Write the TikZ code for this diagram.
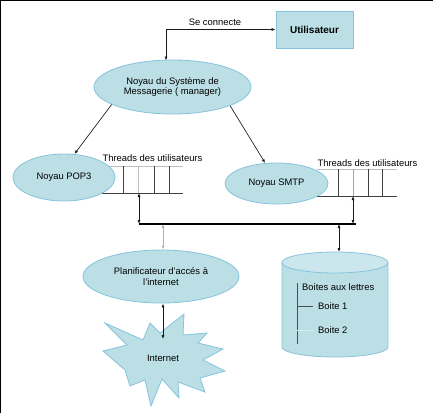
\documentclass[tikz,border=0pt]{standalone}
\usepackage{fontspec}
\setmainfont{Liberation Sans}
\usetikzlibrary{shapes.geometric,arrows.meta}
\definecolor{boxfill}{HTML}{BBDFE5}
\definecolor{boxedge}{HTML}{86C3DE}
\definecolor{topfill}{HTML}{CBE7ED}
\tikzset{
  txt/.style={font=\fontsize{9.4}{10.8}\selectfont, text=black},
  oval/.style={ellipse, draw=boxedge, fill=boxfill, line width=0.8pt, inner sep=0pt, txt, align=center},
  arr/.style={-{Latex[length=4pt,width=3pt]}, line width=0.7pt, draw=black!85},
  darr/.style={{Latex[length=4pt,width=3pt]}-{Latex[length=4pt,width=3pt]}, line width=0.7pt, draw=black!90},
  qline/.style={line width=0.7pt, draw=black!75},
  qlight/.style={line width=0.7pt, draw=black!25},
}
\begin{document}
\begin{tikzpicture}[x=1pt,y=-1pt]
\useasboundingbox (0,0) rectangle (433,413);
\fill[white] (0,0) rectangle (433,413);
\draw[line width=1.6pt] (0,413) -- (0,0) -- (433,0);

% user
\node[draw=boxedge, fill=boxfill, line width=0.8pt, minimum width=77pt, minimum height=37pt, inner sep=0pt,
      font=\fontsize{10}{12}\selectfont\bfseries] (user) at (314.5,29.5) {Utilisateur};

% manager
\node[oval, minimum width=157pt, minimum height=54pt] (mgr) at (172.5,87) {Noyau du Système de\\Messagerie ( manager)};
\coordinate (mgrtop) at (166,60.5);
\draw[darr] (user.west) -| (mgrtop);
\node[txt] (seconn) at (215,22) {Se connecte};

% queues
\draw[qlight] (100,166) -- (183,166);
\draw[qline] (100,193) -- (183,193);
\draw[qline] (123,166) -- (123,193);
\draw[qlight] (138,166) -- (138,193);
\draw[qline] (154,166) -- (154,193);
\draw[qline] (169,166) -- (169,193);
\draw[qlight] (317,169) -- (397,169);
\draw[qline] (317,196) -- (397,196);
\draw[qline] (338,169) -- (338,196);
\draw[line width=1pt, draw=black!35] (353,169) -- (353,196);
\draw[qline] (368,169) -- (368,196);
\draw[qline] (382,169) -- (382,196);

\node[txt, anchor=west] (thrL) at (99,158) {Threads des utilisateurs};
\node[txt, anchor=west] (thrR) at (314,163) {Threads des utilisateurs};

% pop3 & smtp
\node[oval, minimum width=102pt, minimum height=47pt] (pop) at (64,177.5) {Noyau POP3};
\node[oval, minimum width=103pt, minimum height=41pt] (smtp) at (276.5,183.5) {Noyau SMTP};

\draw[arr] (mgr.196) -- (pop.66);
\draw[arr] (mgr.342) -- (smtp.119);

% bus
\coordinate (qL) at (139,193);
\coordinate (qR) at (353,196);
\coordinate (busL) at (139,224);
\coordinate (busR) at (356,224);
\coordinate (b1) at (163,224);
\coordinate (b2) at (339,224);
\draw[line width=1.1pt] (busL) -- (busR);
\draw[darr] (qL) -- (busL);
\draw[darr] (qR) -- (qR |- busL);

% planificateur
\node[oval, minimum width=156pt, minimum height=53pt] (plan) at (161,276.5) {Planificateur d'accés à\\l'internet};
\draw[darr, draw=black!30] (b1) -- (plan.north -| b1);

% internet starburst
\filldraw[fill=boxfill, draw=boxedge, line width=0.8pt]
  (105,323) -- (143,340) -- (150,323) -- (160,333) -- (184,314) -- (183,335) -- (207,333) -- (198,343)
  -- (223,349) -- (203,360) -- (225,371) -- (200,378) -- (205,392) -- (178,382) -- (179,398) -- (162,379)
  -- (151,406) -- (145,380) -- (130,386) -- (125,370) -- (103,351) -- (127,345) -- cycle;
\node[txt] (inet) at (163,358) {Internet};
\coordinate (inettip) at (163,339);
\draw[darr] (plan.south -| inettip) -- (inettip);

% mailbox cylinder
\fill[boxfill] (282,262.5) rectangle (388,347);
\fill[boxfill] (335,347) ellipse[x radius=53, y radius=10];
\draw[boxedge, line width=0.8pt] (282,262.5) -- (282,347) arc[start angle=180, end angle=0, x radius=53, y radius=10] -- (388,262.5);
\filldraw[fill=topfill, draw=boxedge, line width=0.8pt] (335,262.5) ellipse[x radius=53, y radius=10.5];
\coordinate (baltop) at (339,252);
\draw[darr] (b2) -- (baltop);

\draw[line width=0.7pt, draw=black!70] (297,283) -- (297,344);
\draw[line width=0.7pt, draw=black!70] (297,306) -- (313,306);
\draw[line width=0.6pt, draw=white!40!boxfill] (297,330) -- (313,330);
\node[txt, anchor=west, inner sep=0pt] (bal) at (302,287) {Boites aux lettres};
\node[txt, anchor=west, inner sep=0pt] (bal1) at (318,306) {Boite 1};
\node[txt, anchor=west, inner sep=0pt] (bal2) at (318,330) {Boite 2};
\end{tikzpicture}
\end{document}
